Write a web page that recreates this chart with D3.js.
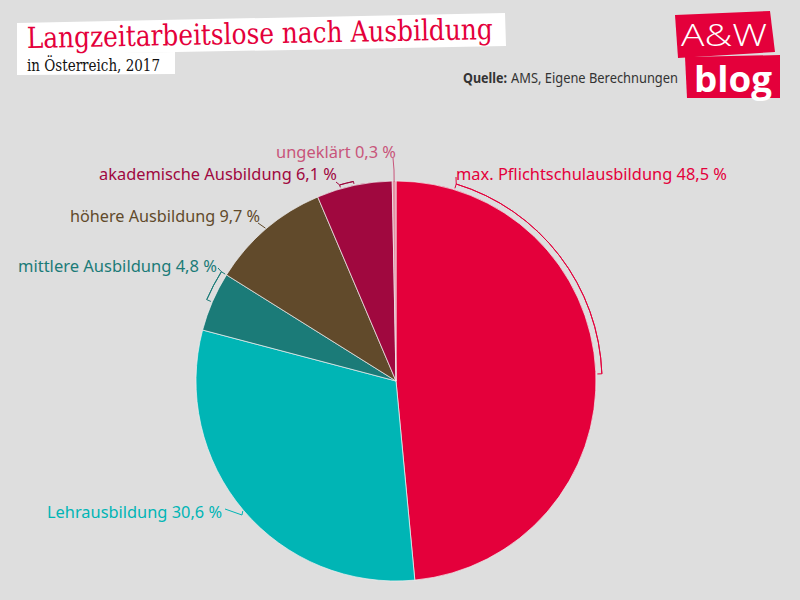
<!DOCTYPE html>
<html><head><meta charset="utf-8">
<script src="https://cdn.jsdelivr.net/npm/d3@7"></script>
<style>html,body{margin:0;padding:0;background:#dedede;}svg{display:block;}</style>
</head><body>
<svg id="c" width="800" height="600"></svg>
<script>
const categories = ["max. Pflichtschulausbildung","Lehrausbildung","mittlere Ausbildung","höhere Ausbildung","akademische Ausbildung","ungeklärt"];
const values = [48.5, 30.6, 4.8, 9.7, 6.1, 0.3];
const valueLabels = ["48,5 %","30,6 %","4,8 %","9,7 %","6,1 %","0,3 %"];
const sliceColors = ["#e4003b","#00b5b5","#1b7b78","#614a2b","#a0083f","#e58fa2"];
const labelColors = ["#e4003b","#00b5b5","#1b7b78","#614a2b","#a0083f","#c8557a"];

const svg = d3.select("#c");
svg.append("rect").attr("width",800).attr("height",600).attr("fill","#dedede");

// Title boxes
const g0 = svg.append("g");
g0.append("polygon").attr("points","17,23 505,13 506,46 17,55").attr("fill","#fff");
g0.append("polygon").attr("points","17,54 175,52 175,74 17,75").attr("fill","#fff");
g0.append("text").attr("x",27).attr("y",48).attr("fill","#e4003b")
  .attr("font-family","'DejaVu Serif', serif").attr("font-size",29)
  .attr("textLength",466).attr("lengthAdjust","spacingAndGlyphs")
  .attr("transform","rotate(-1.1 27 48)")
  .text("Langzeitarbeitslose nach Ausbildung");
g0.append("text").attr("x",27).attr("y",71).attr("fill","#111")
  .attr("font-family","'DejaVu Serif', serif").attr("font-size",17)
  .attr("textLength",133).attr("lengthAdjust","spacingAndGlyphs")
  .text("in Österreich, 2017");

// Source
svg.append("text").attr("x",463).attr("y",83).attr("fill","#333")
  .attr("font-family","'Noto Sans', sans-serif").attr("font-size",14.5).attr("font-weight","bold")
  .attr("textLength",44).attr("lengthAdjust","spacingAndGlyphs").text("Quelle:");
svg.append("text").attr("x",511).attr("y",83).attr("fill","#333")
  .attr("font-family","'Noto Sans', sans-serif").attr("font-size",14.5)
  .attr("textLength",167).attr("lengthAdjust","spacingAndGlyphs").text("AMS, Eigene Berechnungen");

// Logo
svg.append("polygon").attr("points","675,15 770,11 775,52 678,58").attr("fill","#e4003b");
svg.append("polygon").attr("points","685,57 780,55 780,98 687,98").attr("fill","#e4003b");
svg.append("text").attr("x",724).attr("y",46).attr("text-anchor","middle").attr("fill","#fff")
  .attr("font-family","'Open Sans', sans-serif").attr("font-weight",300).attr("font-size",32)
  .attr("textLength",86).attr("lengthAdjust","spacingAndGlyphs")
  .text("A&W");
svg.append("text").attr("x",733).attr("y",92).attr("text-anchor","middle").attr("fill","#fff")
  .attr("font-family","'Open Sans', sans-serif").attr("font-weight",700).attr("font-size",35)
  .attr("textLength",78).attr("lengthAdjust","spacingAndGlyphs")
  .text("blog");

// Pie
const cx = 396, cy = 381, r = 200;
const pie = d3.pie().sort(null).value(d => d)(values);
const arc = d3.arc().innerRadius(0).outerRadius(r);
const pg = svg.append("g").attr("transform",`translate(${cx},${cy})`);
pg.selectAll("path").data(pie).join("path")
  .attr("d",arc).attr("fill",(d,i)=>sliceColors[i])
  .attr("stroke","#f0f0f0").attr("stroke-width",0.7);

const deg = Math.PI/180;
const pt = (a, rad) => [cx + rad*Math.sin(a), cy - rad*Math.cos(a)];
const lg = svg.append("g").attr("fill","none").attr("stroke-width",1);

// label anchors (layout only)
const labelPos = [
  {x:456, y:180, anchor:"start"},
  {x:222, y:518, anchor:"end"},
  {x:217, y:272, anchor:"end"},
  {x:260, y:222, anchor:"end"},
  {x:337, y:180, anchor:"end"},
  {x:396, y:158, anchor:"end"}
];

function bracket(i, a0, a1, rad) {
  const c = labelColors[i];
  const p0 = pt(a0, rad), p1 = pt(a1, rad);
  const q0 = pt(a0, r+1.5), q1 = pt(a1, r+1.5);
  lg.append("path").attr("transform",`translate(${cx},${cy})`).attr("d", d3.arc()({innerRadius:rad,outerRadius:rad,startAngle:a0,endAngle:a1})).attr("stroke",c);
  lg.append("path").attr("d", d3.line()([q0,p0])).attr("stroke",c);
  lg.append("path").attr("d", d3.line()([q1,p1])).attr("stroke",c);
  return {p0, p1};
}
{
  const b = bracket(0, pie[0].startAngle + 17*deg, pie[0].startAngle + 88*deg, 206);
  lg.append("path").attr("d", d3.line()([b.p0,[456,177]])).attr("stroke",labelColors[0]);
}
{
  const m = (pie[1].startAngle+pie[1].endAngle)/2;
  const e = pt(m, r+1);
  lg.append("path").attr("d", d3.line()([[225,509],[242,515],e])).attr("stroke",labelColors[1]);
}
{
  const b = bracket(2, pie[2].startAngle + 8.5*deg, pie[2].endAngle, 206);
  lg.append("path").attr("d", d3.line()([[218,268],b.p1])).attr("stroke",labelColors[2]);
}
{
  const m = (pie[3].startAngle+pie[3].endAngle)/2;
  const e = pt(m, r+1);
  lg.append("path").attr("d", d3.line()([[258,223],e])).attr("stroke",labelColors[3]);
}
{
  const b = bracket(4, pie[4].startAngle + 7*deg, pie[4].startAngle + 11*deg, 204);
  lg.append("path").attr("d", d3.line()([[336,182],b.p0])).attr("stroke",labelColors[4]);
}
{
  const m = (pie[5].startAngle+pie[5].endAngle)/2;
  const e = pt(m, r-1);
  lg.append("path").attr("d", d3.line()([[393,158],[394,170],e])).attr("stroke",labelColors[5]);
}

const textWidths = [271, 175, 199, 190, 238, 120];
svg.append("g").selectAll("text").data(categories).join("text")
  .attr("x",(d,i)=>labelPos[i].x).attr("y",(d,i)=>labelPos[i].y)
  .attr("text-anchor",(d,i)=>labelPos[i].anchor)
  .attr("fill",(d,i)=>labelColors[i])
  .attr("font-family","'Noto Sans', sans-serif").attr("font-size",17)
  .attr("textLength",(d,i)=>textWidths[i]).attr("lengthAdjust","spacingAndGlyphs")
  .text((d,i)=>d+" "+valueLabels[i]);
</script>
</body></html>
